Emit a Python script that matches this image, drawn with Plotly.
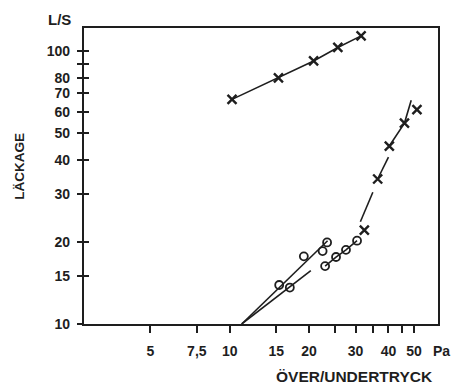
import plotly.graph_objects as go

# ---- data ----
upper_x = [10.2, 15.3, 20.8, 25.7, 31.5]
upper_y = [66.6, 79.8, 92.1, 103.2, 113.8]

steep_x = [32.4, 36.4, 40.3, 46.0, 51.3]
steep_y = [22.1, 34.0, 44.9, 54.5, 61.1]

circ_a_x = [15.4, 19.1, 22.5, 23.4]
circ_a_y = [13.9, 17.7, 18.5, 19.9]

circ_b_x = [16.9, 23.0, 25.3, 27.6, 30.4]
circ_b_y = [13.6, 16.3, 17.6, 18.7, 20.2]

# hand-drawn line segments (None = pen lifted)
fit_a_x = [11.1, 23.5]
fit_a_y = [10.0, 20.2]
fit_b_x = [11.1, 20.3, None, 23.0, 25.3, 27.6, 30.4, None, 31.3, 34.9,
           None, 36.4, 40.0, None, 40.3, 46.0, 48.8]
fit_b_y = [10.0, 15.7, None, 16.3, 17.6, 18.7, 20.2, None, 23.7, 30.4,
           None, 34.0, 40.9, None, 44.9, 54.5, 66.1]

x_ticks = [5, 7.5, 10, 15, 20, 25, 30, 35, 40, 45, 50]
x_labels = ["5", "7,5", "10", "15", "20", "", "30", "", "40", "", "50"]
y_ticks = [10, 15, 20, 30, 40, 50, 60, 70, 80, 90, 100]
y_labels = ["10", "15", "20", "30", "40", "50", "60", "70", "80", "", "100"]

INK = "#1e1e1e"
FONT = dict(family="Liberation Sans", size=14, color=INK, weight="bold")

fig = go.Figure()
fig.add_trace(go.Scatter(x=upper_x, y=upper_y, mode="lines+markers",
                         line=dict(color=INK, width=1.6),
                         marker=dict(symbol="x-thin", size=9, line=dict(color=INK, width=2.4)),
                         showlegend=False))
fig.add_trace(go.Scatter(x=fit_a_x, y=fit_a_y, mode="lines",
                         line=dict(color=INK, width=1.6), showlegend=False))
fig.add_trace(go.Scatter(x=fit_b_x, y=fit_b_y, mode="lines", connectgaps=False,
                         line=dict(color=INK, width=1.6), showlegend=False))
fig.add_trace(go.Scatter(x=steep_x, y=steep_y, mode="markers",
                         marker=dict(symbol="x-thin", size=9, line=dict(color=INK, width=2.4)),
                         showlegend=False))
fig.add_trace(go.Scatter(x=circ_a_x + circ_b_x, y=circ_a_y + circ_b_y, mode="markers",
                         marker=dict(symbol="circle-open", size=8, color=INK,
                                     line=dict(color=INK, width=1.8)),
                         showlegend=False))
# invisible trace to carry the inside-tick overlay axis
fig.add_trace(go.Scatter(x=[20], y=[20], yaxis="y2", mode="markers",
                         marker=dict(opacity=0), hoverinfo="skip", showlegend=False))

yr = [1.0, 2.085]
fig.update_layout(
    width=456, height=386,
    margin=dict(l=84, r=18, t=28, b=62),
    paper_bgcolor="white", plot_bgcolor="white",
    font=FONT,
    xaxis=dict(type="log", range=[0.447, 1.790], tickvals=x_ticks, ticktext=x_labels,
               ticks="outside", ticklen=7, tickwidth=1.6, tickcolor=INK,
               showline=True, linewidth=2.2, linecolor=INK, mirror=True,
               showgrid=False, zeroline=False, ticklabelstandoff=6,
               tickfont=FONT),
    yaxis=dict(type="log", range=yr, tickvals=y_ticks, ticktext=y_labels,
               ticks="outside", ticklen=5, tickwidth=1.6, tickcolor=INK,
               showline=True, linewidth=2.2, linecolor=INK, mirror=True,
               showgrid=False, zeroline=False, ticklabelstandoff=4,
               tickfont=FONT),
    yaxis2=dict(type="log", range=yr, overlaying="y", side="left",
                tickvals=y_ticks, ticks="inside", ticklen=5, tickwidth=1.6,
                tickcolor=INK, showticklabels=False, showline=False,
                showgrid=False, zeroline=False),
)

fig.add_annotation(text="Pa", xref="paper", yref="paper", x=1.011, y=-0.090,
                   showarrow=False, font=FONT, xanchor="center", yanchor="middle")
fig.add_annotation(text="L/S", xref="paper", yref="paper", x=-0.068, y=1.030,
                   showarrow=False, font=dict(FONT, size=15), xanchor="center", yanchor="middle")
fig.add_annotation(text="LÄCKAGE", xref="paper", yref="paper", x=-0.181, y=0.534,
                   showarrow=False, font=dict(FONT, size=13.5), textangle=-90,
                   xanchor="center", yanchor="middle")
fig.add_annotation(text="ÖVER/UNDERTRYCK", xref="paper", yref="paper", x=0.763, y=-0.176,
                   showarrow=False, font=dict(FONT, size=15.5), xanchor="center", yanchor="middle")

fig.write_html("out.html")
